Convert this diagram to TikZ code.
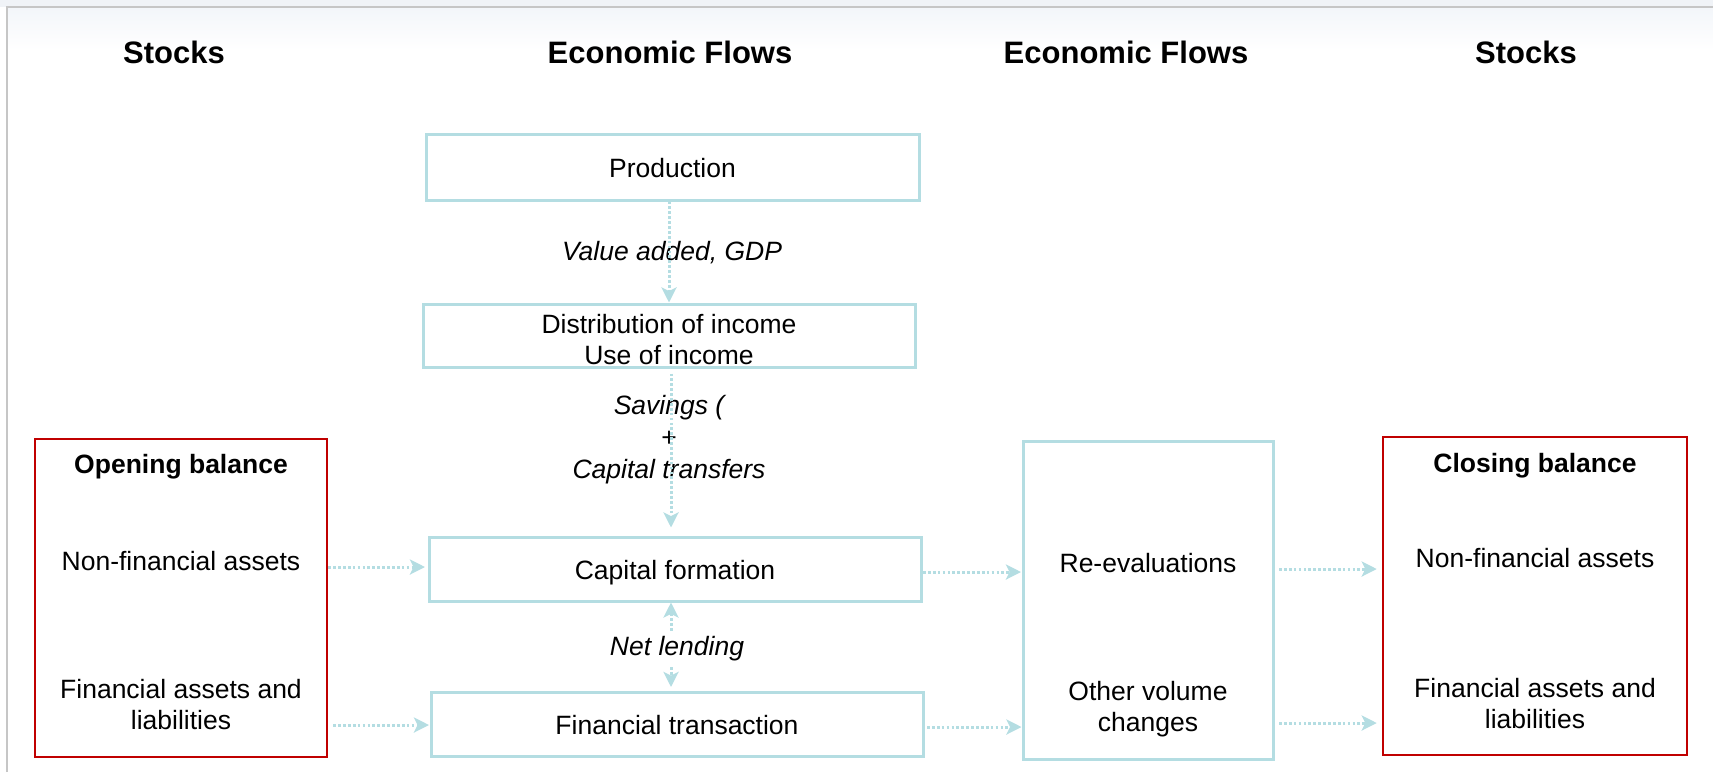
\documentclass[tikz,border=0pt]{standalone}
\usepackage{fontspec}
\setmainfont{Liberation Sans}
\usetikzlibrary{arrows.meta,calc}

\definecolor{flowteal}{RGB}{180,221,226}
\definecolor{stockred}{RGB}{192,0,0}
\definecolor{framegray}{RGB}{198,198,198}
\definecolor{framebg}{RGB}{240,243,247}
\definecolor{topfade}{RGB}{243,246,250}

\tikzset{
  flowbox/.style={draw=flowteal, line width=3pt, inner sep=0pt,
    font=\fontsize{26.5}{31}\selectfont, text height=20pt, text depth=0pt},
  stockbox/.style={draw=stockred, line width=2.5pt, inner sep=0pt},
  body/.style={font=\fontsize{26.5}{31}\selectfont, align=center, inner sep=0pt},
  bodybold/.style={body, font=\fontsize{26.5}{31}\selectfont\bfseries},
  flowlabel/.style={font=\fontsize{26.5}{32}\selectfont\itshape, align=center, inner sep=0pt},
  head/.style={font=\fontsize{31}{37}\selectfont\bfseries, inner sep=0pt, anchor=base},
  flowtip/.tip={Stealth[length=15pt, width=15pt, inset=3.5pt, fill=flowteal]},
  flowline/.style={draw=flowteal, line width=3pt, dash pattern=on 2.7pt off 2.2pt},
  flowarrow/.style={flowline, -flowtip},
  flowboth/.style={flowline, flowtip-flowtip},
}

\begin{document}
\begin{tikzpicture}[x=1pt, y=-1pt]
  \useasboundingbox (0,0) rectangle (1713,772);

  % window frame
  \fill[framebg] (0,0) rectangle (1713,7);
  \shade[top color=topfade, bottom color=white] (8,8) rectangle (1713,50);
  \draw[framegray, line width=2pt] (7,772) -- (7,7) -- (1713,7);

  % column headings
  \node[head] (hstockl) at (174,63) {Stocks};
  \node[head] (hflowl)  at (670,63) {Economic Flows};
  \node[head] (hflowr)  at (1126,63) {Economic Flows};
  \node[head] (hstockr) at (1526,63) {Stocks};

  % flow boxes
  \node[flowbox, minimum width=493pt, minimum height=66pt] (prod) at (672.5,167) {Production};
  \node[flowbox, minimum width=492pt, minimum height=63pt] (dist) at (669,335.5) {};
  \node[body] (disttext) at (669,339.5) {Distribution of income\\Use of income};
  \node[flowbox, minimum width=492pt, minimum height=64pt] (cf) at (675,569) {Capital formation};
  \node[flowbox, minimum width=492pt, minimum height=64pt] (ft) at (677,724) {Financial transaction};

  % other changes box
  \node[flowbox, minimum width=250pt, minimum height=318pt] (oc) at (1148,600) {};
  \node[body, anchor=base] (reval) at (1148,572) {Re-evaluations};
  \node[body] (ovc) at (1148,709) {Other volume\\changes};

  % opening balance
  \node[stockbox, minimum width=292pt, minimum height=318pt] (ob) at (181,598) {};
  \node[bodybold, anchor=base] (obtitle) at (181,473) {Opening balance};
  \node[body, anchor=base] (obnf) at (181,570) {Non-financial assets};
  \node[body] (obfin) at (181,705) {Financial assets and\\liabilities};

  % closing balance
  \node[stockbox, minimum width=304pt, minimum height=318pt] (clb) at (1535,596) {};
  \node[bodybold, anchor=base] (cbtitle) at (1535,472) {Closing balance};
  \node[body, anchor=base] (cbnf) at (1535,567) {Non-financial assets};
  \node[body] (cbfin) at (1535,704) {Financial assets and\\liabilities};

  % labels on the vertical flows
  \node[flowlabel, anchor=base] (va) at (672,260) {Value added, GDP};
  \node[flowlabel] (sav) at (669,440) {Savings (\\\upshape+\\Capital transfers};

  % vertical flows
  \draw[flowarrow] ($(prod.south)+(-3.5,0)$) -- (dist.north);
  \draw[flowarrow, shorten <=5pt, shorten >=8pt] ($(dist.south)+(2,0)$) -- ($(cf.north)+(-4,0)$);
  \draw[flowboth, shorten >=3.5pt] ($(cf.south)+(-4,0)$) -- ($(ft.north)+(-6,0)$);
  \node[flowlabel, anchor=base, fill=white, inner sep=5pt] (nl) at (677,655) {Net lending};

  % horizontal flows
  \draw[flowarrow, shorten >=2.5pt] (ob.east |- 0,567) -- (cf.west |- 0,567);
  \draw[flowarrow, shorten <=5pt, shorten >=0.5pt] (ob.east |- 0,725) -- (ft.west |- 0,725);
  \draw[flowarrow, shorten <=0.5pt, shorten >=0.5pt] (cf.east |- 0,572) -- (oc.west |- 0,572);
  \draw[flowarrow, shorten <=2.5pt] (ft.east |- 0,727) -- (oc.west |- 0,727);
  \draw[flowarrow, shorten <=4.5pt, shorten >=5pt] (oc.east |- 0,569) -- (clb.west |- 0,569);
  \draw[flowarrow, shorten <=4.5pt, shorten >=5pt] (oc.east |- 0,723) -- (clb.west |- 0,723);
\end{tikzpicture}
\end{document}
